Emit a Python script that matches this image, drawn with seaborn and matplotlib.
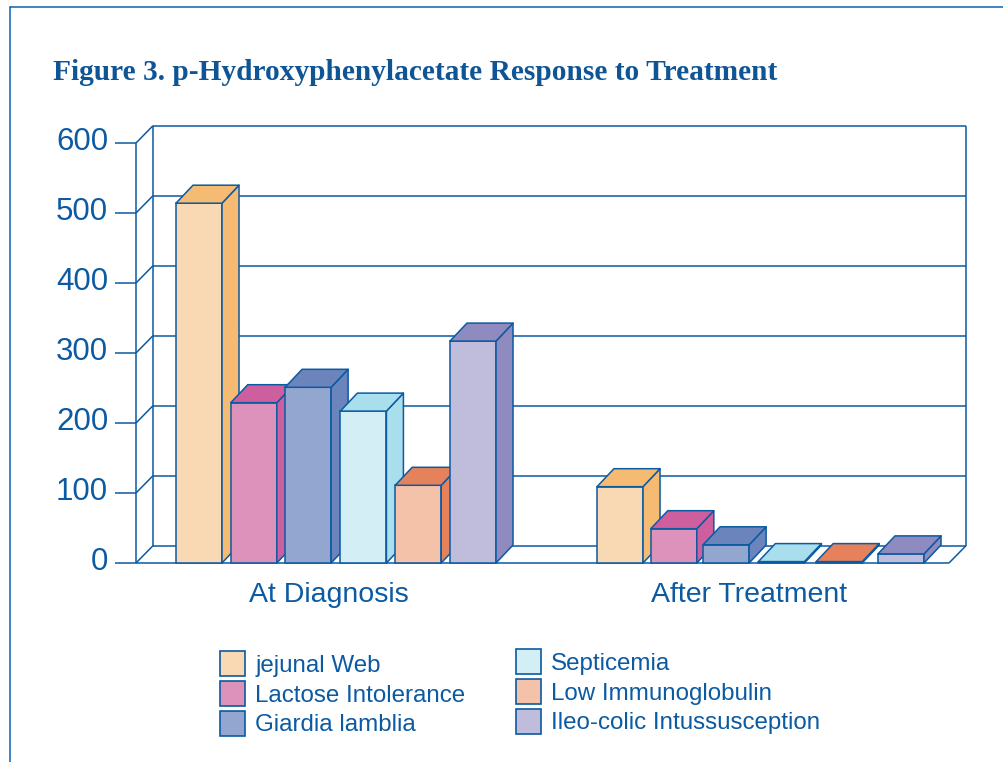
import pandas as pd
import seaborn as sns
from matplotlib import pyplot as plt
from matplotlib.lines import Line2D
from matplotlib.patches import Patch, Polygon
from matplotlib.transforms import ScaledTranslation

groups = ['At Diagnosis', 'After Treatment']
conditions = ['jejunal Web', 'Lactose Intolerance', 'Giardia lamblia',
              'Septicemia', 'Low Immunoglobulin', 'Ileo-colic Intussusception']
at_diagnosis = [514, 229, 251, 217, 111, 317]
after_treatment = [109, 49, 26, 2, 2, 13]
y_ticks = [0, 100, 200, 300, 400, 500, 600]

front_colors = ['#F9D9B4', '#DC92BB', '#93A6D0', '#D3EEF5', '#F3C2A9', '#BFBCDC']
side_colors = ['#F5BB72', '#CE5F9F', '#6B84BC', '#A9DFEC', '#E6825B', '#8F8AC0']
blue = '#0B5AA2'

# the original spaces the bars a bit unevenly, these are pixel nudges
nudge_px = [[7, 7, 6.5, 7, 7, 7], [8, 7, 4.5, 5, 8, 15]]

W, H = 1004, 762
PX_X = 420.0  # pixels per category
PX_Y = 0.7    # pixels per y unit
depth_x = 17 / PX_X
depth_y = 18 / PX_Y
wall_depth_y = 17.3 / PX_Y

df = pd.DataFrame({
    'group': [groups[0]] * 6 + [groups[1]] * 6,
    'condition': conditions * 2,
    'value': at_diagnosis + after_treatment,
})

sns.set_theme(style='white')
plt.rcParams['font.family'] = ['Liberation Sans', 'DejaVu Sans']

fig = plt.figure(figsize=(W / 100, H / 100), dpi=100)
ax = fig.add_axes([136 / W, 1 - 563 / H, 813 / W, 420 / H])
ax.patch.set_alpha(0)

sns.barplot(data=df, x='group', y='value', hue='condition', order=groups,
            hue_order=conditions, palette=front_colors, saturation=1,
            width=54.8 * 6 / PX_X, gap=0.16, edgecolor=blue, linewidth=1.1,
            legend=False, ax=ax)

x0 = -(329 - 136) / PX_X
x1 = (949 - 329) / PX_X
ax.set_xlim(x0, x1)
ax.set_ylim(0, 600)
ax.set_xlabel('')
ax.set_ylabel('')
sns.despine(ax=ax, left=True, bottom=True)
ax.set_yticks(y_ticks)
ax.tick_params(axis='y', length=15, width=1.1, color=blue, pad=5,
               labelsize=22.5, labelcolor=blue, left=True)
ax.tick_params(axis='x', length=0, pad=14, labelsize=20.5, labelcolor=blue)

# y labels sit slightly above their ticks in the original
for label in ax.get_yticklabels():
    label.set_transform(label.get_transform() + ScaledTranslation(0, 4 / 100, fig.dpi_scale_trans))

# walls of the box
line = dict(color=blue, lw=1.1, clip_on=False, zorder=1, solid_capstyle='butt')
for v in y_ticks:
    ax.plot([x0 + depth_x, x1 + depth_x], [v + wall_depth_y, v + wall_depth_y], **line)
    ax.plot([x0, x0 + depth_x], [v, v + wall_depth_y], **line)
ax.plot([x0, x0], [0, 600], **line)
ax.plot([x0 + depth_x, x0 + depth_x], [wall_depth_y, 600 + wall_depth_y], **line)
ax.plot([x1 + depth_x, x1 + depth_x], [wall_depth_y, 600 + wall_depth_y], **line)
ax.plot([x0, x1], [0, 0], **line)
ax.plot([x1, x1 + depth_x], [0, wall_depth_y], **line)

# turn each flat bar into a box
for i, container in enumerate(ax.containers):
    for j, bar in enumerate(container):
        bar.set_x(bar.get_x() + nudge_px[j][i] / PX_X)
        bar.set_clip_on(False)
        bar.set_zorder(5 + i)
        left, w, h = bar.get_x(), bar.get_width(), bar.get_height()
        top = [(left, h), (left + depth_x, h + depth_y),
               (left + w + depth_x, h + depth_y), (left + w, h)]
        side = [(left + w, 0), (left + w + depth_x, depth_y),
                (left + w + depth_x, h + depth_y), (left + w, h)]
        for pts in (side, top):
            ax.add_patch(Polygon(pts, closed=True, facecolor=side_colors[i],
                                 edgecolor=blue, lw=1.1, clip_on=False,
                                 zorder=5 + i, joinstyle='round'))

fig.text(53 / W, 1 - 80 / H, 'Figure 3. p-Hydroxyphenylacetate Response to Treatment',
         family=['Liberation Serif'], fontweight='bold', fontsize=21.2, color='#0F5596')

# outer frame, only left and top, running off the page
for xs, ys in [([9.5, 9.5], [762, 6.5]), ([9.5, 1004], [6.5, 6.5])]:
    fig.add_artist(Line2D([x / W for x in xs], [1 - y / H for y in ys], color='#0A62B5', lw=1.1))

handles = [Patch(facecolor=c, edgecolor=blue, lw=1.2, label=n)
           for c, n in zip(front_colors, conditions)]
legend_kw = dict(frameon=False, borderpad=0, borderaxespad=0, loc='upper left',
                 fontsize=17.4, labelcolor=blue, handlelength=1.04, handleheight=1.23,
                 handletextpad=0.42, labelspacing=0.17, bbox_transform=fig.transFigure)
first = ax.legend(handles=handles[:3], bbox_to_anchor=(220 / W, 1 - 651 / H), **legend_kw)
ax.add_artist(first)
ax.legend(handles=handles[3:], bbox_to_anchor=(516 / W, 1 - 649 / H), **legend_kw)

fig.savefig('out.png', dpi=100)
